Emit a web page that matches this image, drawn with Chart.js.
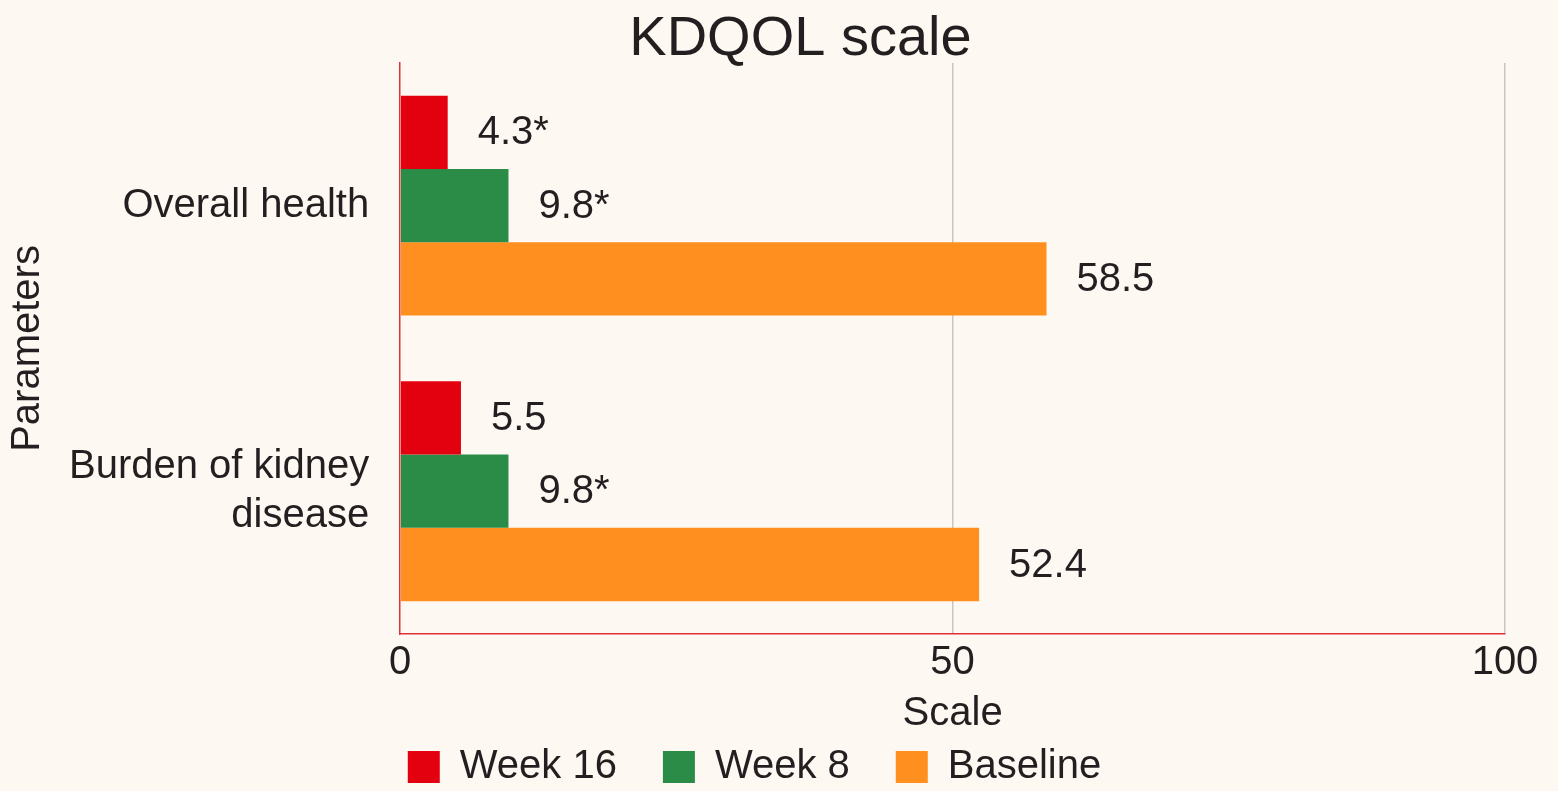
<!DOCTYPE html>
<html lang="en">

<head>
    <meta charset="UTF-8">
    <title>KDQOL scale</title>
    <script src="https://cdn.jsdelivr.net/npm/chart.js"></script>
    <style>
        html, body { margin: 0; padding: 0; background: #fdf8f2; }
        #wrap { width: 1558px; height: 791px; }
    </style>
</head>

<body>
    <div id="wrap"><canvas id="kdqol-chart" width="1558" height="791"></canvas></div>

    <script>
        const categories = ["Overall health", ["Burden of kidney", "disease"]];
        const seriesNames = ["Week 16", "Week 8", "Baseline"];
        const week16 = [4.3, 5.5];
        const week8 = [9.8, 9.8];
        const baseline = [58.5, 52.4];
        const week16Labels = ["4.3*", "5.5"];
        const week8Labels = ["9.8*", "9.8*"];
        const baselineLabels = ["58.5", "52.4"];
        const xTicks = [0, 50, 100];

        const FONT = '"Liberation Sans", Arial, sans-serif';
        const TEXT = '#231f20';
        const LEGEND_TRIM = 41;   // legend padding is only wanted between items, not above them
        const LEGEND_DROP = 6;
        const TITLE_SHIFT = 92;

        // draws the value text just right of each bar
        const barLabels = {
            id: 'barLabels',
            afterDatasetsDraw(chart) {
                const ctx = chart.ctx;
                ctx.save();
                ctx.font = '40px ' + FONT;
                ctx.fillStyle = TEXT;
                ctx.textAlign = 'left';
                ctx.textBaseline = 'middle';
                chart.data.datasets.forEach((ds, i) => {
                    const meta = chart.getDatasetMeta(i);
                    meta.data.forEach((bar, j) => {
                        ctx.fillText(ds.valueLabels[j], bar.x + 30, bar.y + 1);
                    });
                });
                ctx.restore();
            }
        };

        // layout tweaks for legend and title
        const boxTweaks = {
            id: 'boxTweaks',
            beforeLayout(chart) {
                const lg = chart.legend;
                if (lg && !lg._trimmed) {
                    const fit = lg.fit;
                    lg.fit = function () { fit.call(this); this.height -= LEGEND_TRIM; };
                    lg._trimmed = true;
                }
            },
            afterLayout(chart) {
                chart.legend.top -= LEGEND_TRIM - LEGEND_DROP;
                chart.titleBlock.left += TITLE_SHIFT;
            }
        };

        new Chart(document.getElementById('kdqol-chart'), {
            type: 'bar',
            data: {
                labels: categories,
                datasets: [
                    { label: seriesNames[0], data: week16, valueLabels: week16Labels, backgroundColor: '#e3000f' },
                    { label: seriesNames[1], data: week8, valueLabels: week8Labels, backgroundColor: '#2b8c47' },
                    { label: seriesNames[2], data: baseline, valueLabels: baselineLabels, backgroundColor: '#ff9020' }
                ]
            },
            options: {
                indexAxis: 'y',
                responsive: false,
                animation: false,
                categoryPercentage: 0.77,
                barPercentage: 1.0,
                layout: { padding: { top: 0, right: 53, bottom: 0, left: 4 } },
                plugins: {
                    title: {
                        display: true,
                        text: 'KDQOL scale',
                        color: TEXT,
                        font: { family: FONT, size: 56, weight: 'normal', lineHeight: 0.82 },
                        padding: { top: 17, bottom: 0 }
                    },
                    legend: {
                        position: 'bottom',
                        labels: {
                            color: TEXT,
                            font: { family: FONT, size: 40 },
                            boxWidth: 32,
                            boxHeight: 32,
                            padding: 46
                        }
                    },
                    tooltip: { enabled: false }
                },
                scales: {
                    x: {
                        min: 0,
                        max: 100,
                        afterBuildTicks: (axis) => { axis.ticks = xTicks.map(v => ({ value: v })); },
                        ticks: { color: TEXT, font: { family: FONT, size: 40, lineHeight: 1.1 }, padding: 7 },
                        grid: {
                            color: (c) => c.index === 0 ? 'rgba(0,0,0,0)' : '#c9c6c2',
                            lineWidth: 1.5,
                            drawTicks: false
                        },
                        border: { display: true, color: '#e0303a', width: 1.5 },
                        title: {
                            display: true,
                            text: 'Scale',
                            color: TEXT,
                            font: { family: FONT, size: 40, lineHeight: 1.1 },
                            padding: { top: 0, bottom: 0 }
                        }
                    },
                    y: {
                        ticks: {
                            color: TEXT,
                            font: { family: FONT, size: 40, lineHeight: 1.22 },
                            padding: 3
                        },
                        grid: { color: 'rgba(0,0,0,0)', drawTicks: true, tickLength: 28 },
                        border: { display: true, color: '#e0303a', width: 1.5 },
                        title: {
                            display: true,
                            text: 'Parameters',
                            color: TEXT,
                            font: { family: FONT, size: 40 },
                            padding: { top: 0, bottom: 14 }
                        }
                    }
                }
            },
            plugins: [barLabels, boxTweaks]
        });
    </script>
</body>

</html>
